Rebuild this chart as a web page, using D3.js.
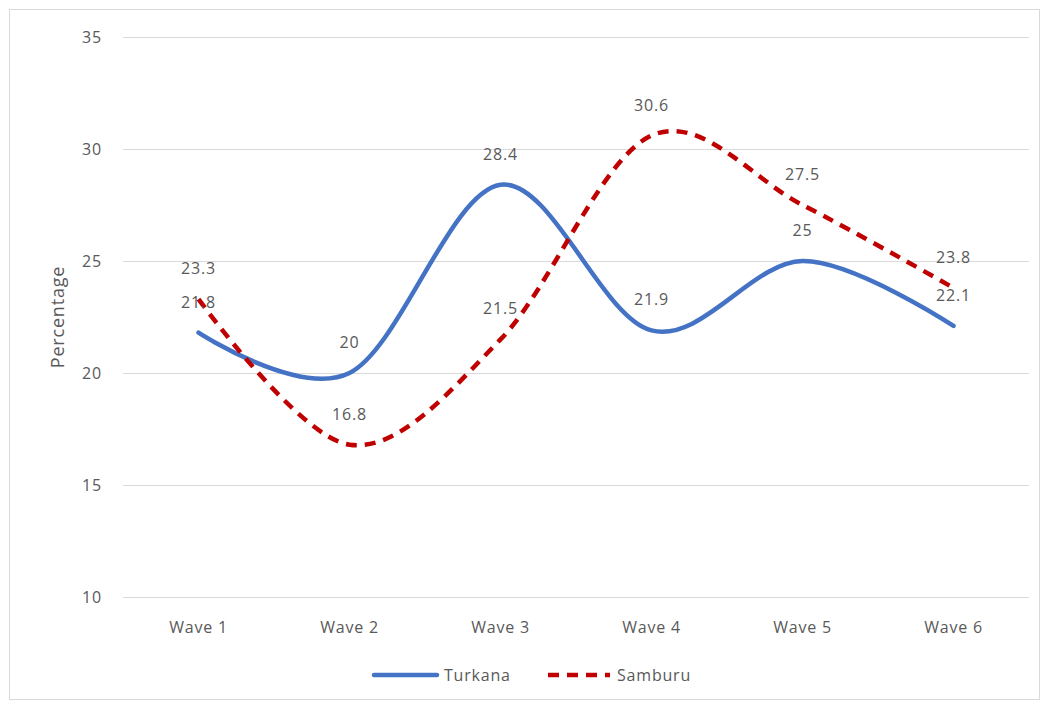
<!DOCTYPE html>
<html><head><meta charset="utf-8">
<script src="https://cdn.jsdelivr.net/npm/d3@7"></script>
<style>body{margin:0;background:#fff}text{font-family:"Open Sans",sans-serif;fill:#595959;letter-spacing:0.8px}</style>
</head><body>
<svg id="chart" width="1046" height="708"></svg>
<script>
var categories = ["Wave 1", "Wave 2", "Wave 3", "Wave 4", "Wave 5", "Wave 6"];
var turkana = [21.8, 20, 28.4, 21.9, 25, 22.1];
var samburu = [23.3, 16.8, 21.5, 30.6, 27.5, 23.8];
var yTicks = [10, 15, 20, 25, 30, 35];

var svg = d3.select("#chart");
svg.append("rect").attr("x", 9.5).attr("y", 9.5).attr("width", 1030).attr("height", 690)
  .attr("fill", "none").attr("stroke", "#d9d9d9");

var x = d3.scaleBand().domain(categories).range([123, 1029]);
var y = d3.scaleLinear().domain([10, 35]).range([597, 37]);
var cx = function (d, i) { return x(categories[i]) + x.bandwidth() / 2; };

svg.append("g").selectAll("line").data(yTicks).enter().append("line")
  .attr("x1", 123).attr("x2", 1029)
  .attr("y1", function (d) { return y(d) + 0.5; }).attr("y2", function (d) { return y(d) + 0.5; })
  .attr("stroke", "#d9d9d9");
svg.append("g").selectAll("text").data(yTicks).enter().append("text")
  .attr("x", 102).attr("y", function (d) { return y(d) + 6; })
  .attr("text-anchor", "end").attr("font-size", 16).text(function (d) { return d; });
svg.append("g").selectAll("text").data(categories).enter().append("text")
  .attr("x", function (d) { return x(d) + x.bandwidth() / 2; }).attr("y", 633)
  .attr("text-anchor", "middle").attr("font-size", 16).text(function (d) { return d; });
svg.append("text").attr("transform", "translate(64,317) rotate(-90)")
  .attr("text-anchor", "middle").attr("font-size", 18).text("Percentage");

var line = d3.line().x(cx).y(function (d) { return y(d); }).curve(d3.curveCatmullRom.alpha(0));

svg.append("path").datum(turkana).attr("d", line).attr("fill", "none")
  .attr("stroke", "#4472c4").attr("stroke-width", 4.5).attr("stroke-linecap", "round");
svg.append("path").datum(samburu).attr("d", line).attr("fill", "none")
  .attr("stroke", "#c00000").attr("stroke-width", 4.5).attr("stroke-dasharray", "11,8");

function labels(data) {
  svg.append("g").selectAll("text").data(data).enter().append("text")
    .attr("x", cx).attr("y", function (d) { return y(d) - 25; })
    .attr("text-anchor", "middle").attr("font-size", 16).text(function (d) { return d; });
}
labels(turkana);
labels(samburu);

var lg = svg.append("g");
lg.append("line").attr("x1", 374).attr("x2", 437).attr("y1", 675).attr("y2", 675)
  .attr("stroke", "#4472c4").attr("stroke-width", 4.5).attr("stroke-linecap", "round");
lg.append("text").attr("x", 444).attr("y", 681).attr("font-size", 16).text("Turkana");
lg.append("line").attr("x1", 548).attr("x2", 610).attr("y1", 675).attr("y2", 675)
  .attr("stroke", "#c00000").attr("stroke-width", 4.5).attr("stroke-dasharray", "11,8");
lg.append("text").attr("x", 617).attr("y", 681).attr("font-size", 16).text("Samburu");
</script>
</body></html>
